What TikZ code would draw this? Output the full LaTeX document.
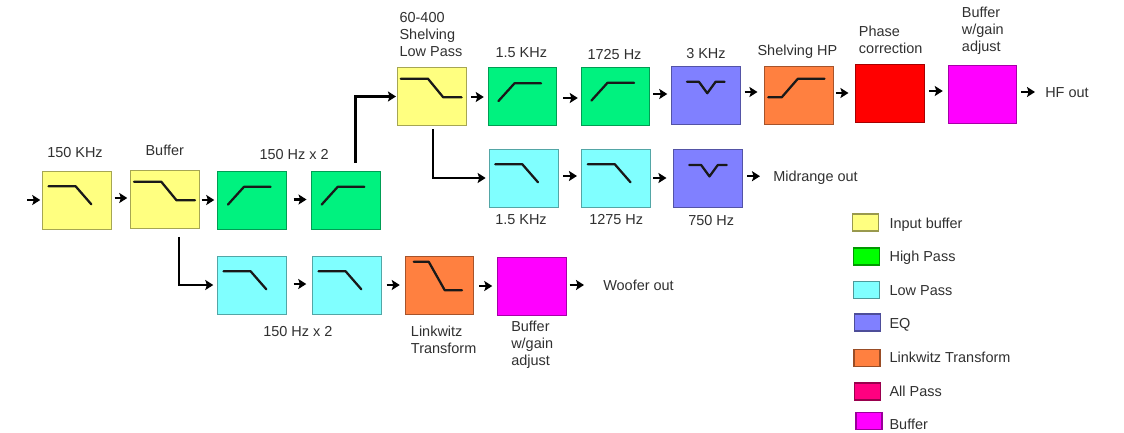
\documentclass[tikz,border=0pt]{standalone}
\usepackage{fontspec}
\setmainfont{Liberation Sans}
\usetikzlibrary{arrows.meta,calc}
\definecolor{cyel}{HTML}{FFFF80}
\definecolor{cgrn}{HTML}{00F27F}
\definecolor{clgr}{HTML}{00FF00}
\definecolor{ccya}{HTML}{80FFFF}
\definecolor{cper}{HTML}{8080FF}
\definecolor{cora}{HTML}{FF8040}
\definecolor{cred}{HTML}{FF0000}
\definecolor{cpnk}{HTML}{FF0080}
\definecolor{cmag}{HTML}{FF00FF}
\definecolor{ctxt}{HTML}{303030}
\tikzset{
  blk/.style={draw=#1!65!black,fill=#1,line width=0.7pt,minimum width=51.4pt,minimum height=43.5pt,inner sep=0pt},
  key/.style={draw=#1!60!black,fill=#1,line width=0.9pt,minimum width=19.6pt,minimum height=12.8pt,inner sep=0pt},
  lblm/.style={anchor=west,inner sep=0pt,align=left,text=ctxt,font=\fontsize{10.85}{12.75}\selectfont},
  lbl/.style={anchor=west,inner sep=0pt,text height=7.5pt,text depth=0pt,text=ctxt,font=\fontsize{10.85}{12.75}\selectfont},
  flow/.style={line width=1.6pt,draw=black,-{Stealth[length=6pt,width=7.5pt,inset=1.2pt]}},
  resp/.style={line width=1.7pt,draw=black!90,line cap=round,line join=round}
}
\newcommand{\conn}[5]{\draw[flow,shorten <=#3*0.75pt,shorten >=#4*0.75pt] ($(#1.east)+(0,#5)$) -- ($(#1.east -| #2.west)+(0,#5)$);}
\newcommand{\respc}[2]{\draw[resp,shift={(#1.north west)}] #2;}
\newcommand{\lowp}[1]{\respc{#1}{(6.3,15.7)--(33.3,15.7)--(49,33.7)}}
\newcommand{\highp}[1]{\respc{#1}{(10.7,34)--(26.7,16.3)--(53.3,16.3)}}
\newcommand{\shelfl}[1]{\respc{#1}{(3.7,11.7)--(31,11.7)--(46.3,30.3)--(64.7,30.3)}}
\newcommand{\notchc}[1]{\respc{#1}{(15.7,16.3)--(27.7,16.3)--(36,27.7)--(44.3,16.3)--(53.3,16.3)}}
\begin{document}
\begin{tikzpicture}[x=0.75pt,y=-0.75pt]
\useasboundingbox (0,0) rectangle (1124,432);
% blocks
\node[blk=cyel] (b1) at (77,200) {};
\node[blk=cyel] (b2) at (165,199.5) {};
\node[blk=cgrn] (g1) at (252,200) {};
\node[blk=cgrn] (g2) at (345.75,200) {};
\node[blk=ccya] (c1) at (252,285) {};
\node[blk=ccya] (c2) at (347,285) {};
\node[blk=cora] (lt) at (439.5,285) {};
\node[blk=cmag] (mw) at (532,286) {};
\node[blk=cyel] (sh) at (431.7,96.5) {};
\node[blk=cgrn] (g3) at (522.5,96.5) {};
\node[blk=cgrn] (g4) at (615.5,96) {};
\node[blk=cper] (e1) at (706,95) {};
\node[blk=ccya] (c3) at (523.7,178) {};
\node[blk=ccya] (c4) at (616.2,178) {};
\node[blk=cper] (e2) at (708.2,178.2) {};
\node[blk=cora] (hp) at (799.2,95) {};
\node[blk=cred] (ph) at (890.2,93) {};
\node[blk=cmag] (mh) at (982.5,94) {};
% responses
\lowp{b1} \shelfl{b2} \highp{g1} \highp{g2} \lowp{c1} \lowp{c2}
\shelfl{sh} \highp{g3} \highp{g4} \notchc{e1} \lowp{c3} \lowp{c4} \notchc{e2}
\respc{lt}{(9,6.3)--(24,6.3)--(40,34.7)--(57.3,34.7)}
\respc{hp}{(3.7,31.7)--(17.3,31.7)--(33.3,13.3)--(60,13.3)}
% labels
\node[lbl] (t1) at (47,152.7) {150 KHz};
\node[lbl] (t2) at (145.3,150.7) {Buffer};
\node[lbl] (t3) at (259.3,154) {150 Hz x 2};
\node[lblm] (t4) at (399.3,35) {60-400\\Shelving\\Low Pass};
\node[lbl] (t5) at (495.3,52) {1.5 KHz};
\node[lbl] (t6) at (587.3,54) {1725 Hz};
\node[lbl] (t7) at (686,53) {3 KHz};
\node[lbl] (t8) at (757.3,50) {Shelving HP};
\node[lblm] (t9) at (858.7,39.5) {Phase\\correction};
\node[lblm] (t10) at (961.7,31) {Buffer\\w/gain\\adjust};
\node[lbl] (hfout) at (1045,92) {HF out};
\node[lbl] (midout) at (773,176) {Midrange out};
\node[lbl] (t11) at (495,219) {1.5 KHz};
\node[lbl] (t12) at (589,219) {1275 Hz};
\node[lbl] (t13) at (688,220) {750 Hz};
\node[lbl] (t14) at (263,331) {150 Hz x 2};
\node[lblm] (t15) at (410.7,340) {Linkwitz\\Transform};
\node[lblm] (t16) at (511,345) {Buffer\\w/gain\\adjust};
\node[lbl] (wout) at (603,285) {Woofer out};
% connectors
\coordinate (in) at (27,200);
\draw[flow,shorten >=1.5pt] (in) -- (b1.west);
\conn{b1}{b2}{3}{3}{-2}
\conn{b2}{g1}{2}{3}{0.5}
\conn{g1}{g2}{7}{4.5}{-0.5}
\conn{sh}{g3}{5}{4}{0.5}
\conn{g3}{g4}{6}{3}{1.5}
\conn{g4}{e1}{3}{4}{-2}
\conn{e1}{hp}{4}{7}{-3}
\conn{hp}{ph}{2}{7}{-2}
\conn{ph}{mh}{4.5}{5}{-2}
\conn{mh}{hfout}{4}{10}{-2}
\conn{c3}{c4}{5}{4.5}{-2}
\conn{c4}{e2}{2.5}{7}{0}
\conn{e2}{midout}{4.5}{13}{-2}
\conn{c1}{c2}{7}{6}{-1}
\conn{c2}{lt}{5}{5}{0}
\conn{lt}{mw}{5}{5}{1}
\conn{mw}{wout}{3}{19}{-1}
\draw[flow,shorten <=6pt,shorten >=0.75pt] ($(g2.north)+(9.75,0)$) |- (sh.west);
\draw[flow,shorten <=6pt,shorten >=3pt] ($(b2.south)+(14,0)$) |- (c1.west);
\draw[flow,shorten <=2.5pt,shorten >=2.5pt] ($(sh.south)+(1,0)$) |- (c3.west);
% legend
\node[key=cyel] (k1) at (865.5,222.5) {};
\node[key=clgr] (k2) at (866.2,256.5) {};
\node[key=ccya] (k3) at (866.7,290.2) {};
\node[key=cper] (k4) at (867.7,322.5) {};
\node[key=cora] (k5) at (867,357.7) {};
\node[key=cpnk] (k6) at (867.7,391.5) {};
\node[key=cmag] (k7) at (869,421) {};
\node[lbl] (l1) at (889.3,223) {Input buffer};
\node[lbl] (l2) at (889.3,256) {High Pass};
\node[lbl] (l3) at (889.3,290) {Low Pass};
\node[lbl] (l4) at (889.3,323) {EQ};
\node[lbl] (l5) at (889.3,357) {Linkwitz Transform};
\node[lbl] (l6) at (889.3,391) {All Pass};
\node[lbl] (l7) at (889.3,424) {Buffer};
\end{tikzpicture}
\end{document}
